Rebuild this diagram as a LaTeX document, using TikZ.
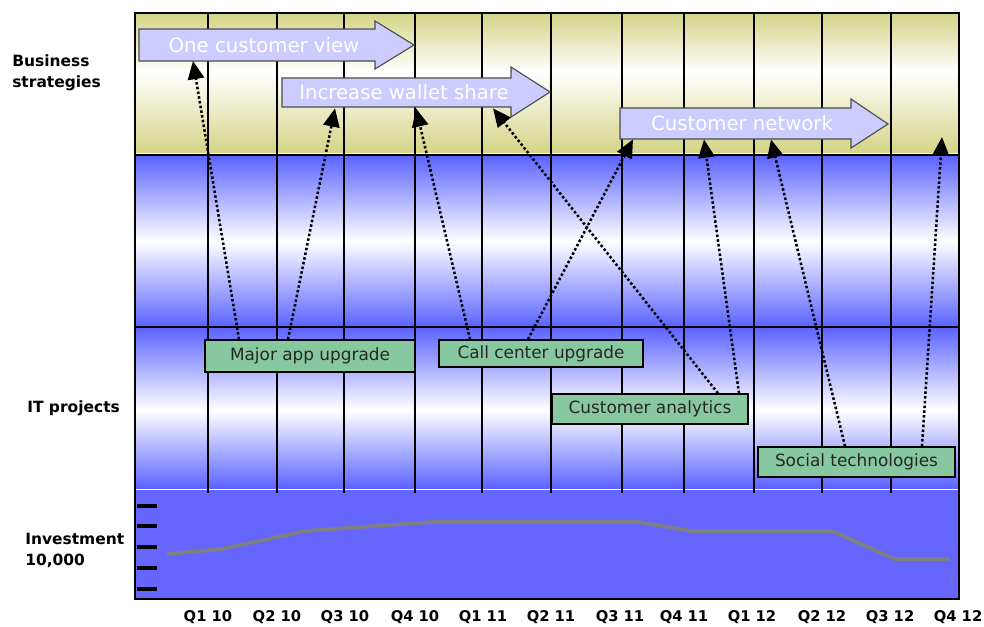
\documentclass[tikz,border=0pt]{standalone}
\usepackage{fontspec}
\setmainfont{DejaVu Sans}
\usepackage{tikz}
\usetikzlibrary{arrows.meta,positioning}
\definecolor{olivebar}{RGB}{212,212,134}
\definecolor{itblue}{RGB}{90,98,255}
\definecolor{invblue}{RGB}{102,102,255}
\definecolor{goalfill}{RGB}{204,204,255}
\definecolor{projgreen}{RGB}{136,200,160}
\definecolor{invgray}{RGB}{128,128,128}
\begin{document}
\begin{tikzpicture}[
    x=0.025cm, y=-0.025cm,
    goalshape/.style={draw=black!70, fill=goalfill, line width=0.8pt},
    goal/.style={text=white, minimum height=0.78cm, inner sep=0pt, font=\fontsize{14}{16}\selectfont},
    proj/.style={draw, fill=projgreen, line width=1pt, inner sep=0pt, minimum height=0.75cm, text=black!85, font=\fontsize{12}{14}\selectfont},
    side/.style={anchor=west, align=left, inner sep=0pt, font=\bfseries\fontsize{11}{15}\selectfont},
    qlabel/.style={inner sep=0pt, font=\bfseries\fontsize{10.5}{12}\selectfont},
    gridline/.style={line width=1pt},
    link/.style={-{Triangle[length=13pt,width=11.5pt]}, line width=1.8pt, dash pattern=on 1.8pt off 1.6pt}
]
\useasboundingbox (0,0) rectangle (984,626);

\shade[top color=olivebar, bottom color=white] (135,13) rectangle (959,72);
\shade[top color=white, bottom color=olivebar] (135,72) rectangle (959,153);
\fill[white] (135,153) rectangle (959,155);
\shade[top color=itblue, bottom color=white] (135,155) rectangle (959,241);
\shade[top color=white, bottom color=itblue] (135,241) rectangle (959,327);
\shade[top color=itblue, bottom color=white] (135,327) rectangle (959,410);
\shade[top color=white, bottom color=itblue] (135,410) rectangle (959,489);
\fill[invblue] (135,490) rectangle (959,599);
\draw[white, line width=1pt] (135,489.5) -- (959,489.5);

\foreach \x in {208,277,344,415,482,551,622,684,754,822,891}
  \draw[gridline] (\x,13) -- (\x,493);
\draw[gridline] (135,155) -- (959,155);
\draw[gridline] (135,327) -- (959,327);

\foreach \y in {506,526,547,568,589}
  \draw[line width=2.2pt] (137,\y) -- (157,\y);
\draw[invgray, line width=2.6pt, line join=round] (167,554) -- (222,549) -- (305,531) -- (360,527) -- (432,522) -- (638,522) -- (692,531) -- (832,531) -- (895,559) -- (950,559);
\node[invgray, font=\fontsize{6}{6}\selectfont, inner sep=0pt] (mark) at (951,578) {1};

\draw[line width=2pt] (135,13) rectangle (959,599);

\draw[goalshape] (139,29) -| (375,21) -- (414,45) -- (375,69) |- (139,61) -- cycle;
\node[goal] (ocv) at (264,45) {One customer view};
\draw[goalshape] (282,78) -| (511,67) -- (550,92) -- (511,117) |- (282,107) -- cycle;
\node[goal] (iws) at (404,92.5) {Increase wallet share};
\draw[goalshape] (620,108) -| (851,99) -- (888,124) -- (851,148) |- (620,139) -- cycle;
\node[goal] (cn) at (742,123.5) {Customer network};
\coordinate (q4top) at (942,137);

\node[proj, minimum width=5.25cm, minimum height=0.8cm] (mau) at (310,356) {Major app upgrade};
\node[proj, minimum width=5.1cm, minimum height=0.675cm] (ccu) at (541,353.5) {Call center upgrade};
\node[proj, minimum width=4.9cm] (ca) at (650,409) {Customer analytics};
\node[proj, minimum width=4.925cm] (st) at (856.5,462) {Social technologies};

\node[side] (bs) at (12,73) {Business\\strategies};
\node[side] (itp) at (27,408) {IT projects};
\node[side] (inv) at (25,550) {Investment\\10,000};

\foreach \x/\q [count=\i] in {208/Q1 10,277/Q2 10,345/Q3 10,415/Q4 10,483/Q1 11,551/Q2 11,620/Q3 11,684/Q4 11,752/Q1 12,822/Q2 12,890/Q3 12,958/Q4 12}
  \node[qlabel] (q\i) at (\x,617) {\q};

\draw[link] (mau.north -| 239,0) -- (ocv.south -| 193,0);
\draw[link] (mau.north -| 288,0) -- (iws.south -| 335,0);
\draw[link] (ccu.north -| 470,0) -- (iws.south -| 416,0);
\draw[link] (ccu.north -| 528,0) -- (cn.south -| 633,0);
\draw[link] (ca.north -| 718,0) -- (iws.south -| 493,0);
\draw[link] (ca.north -| 739,0) -- (cn.south -| 704,0);
\draw[link] (st.north -| 845,0) -- (cn.south -| 771,0);
\draw[link] (st.north -| 922,0) -- (q4top);
\end{tikzpicture}
\end{document}
